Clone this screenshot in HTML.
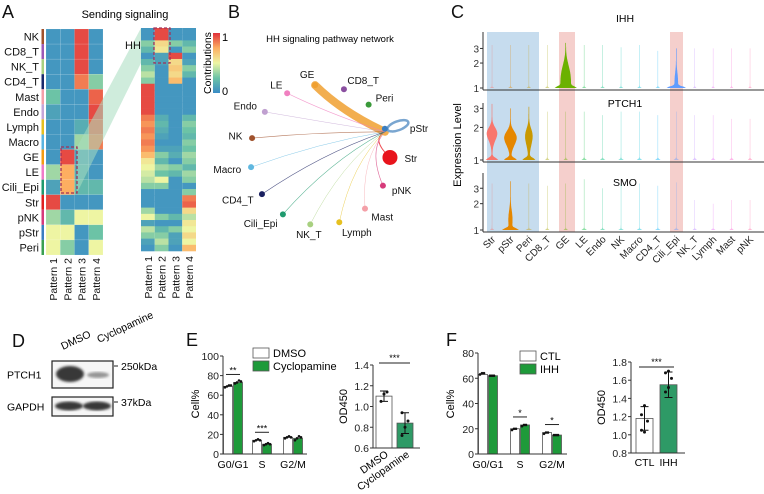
<!DOCTYPE html>
<html><head><meta charset="utf-8"><style>
html,body{margin:0;padding:0;background:#fff;}
svg{display:block;font-family:"Liberation Sans",Arial,sans-serif;}
</style></head><body>
<svg id="fig" width="764" height="494" viewBox="0 0 764 494" xmlns="http://www.w3.org/2000/svg">
<defs>
<linearGradient id="cbar" x1="0" y1="1" x2="0" y2="0">
<stop offset="0" stop-color="#3a8cc6"/><stop offset="0.25" stop-color="#6cc3a6"/><stop offset="0.5" stop-color="#eef5a3"/><stop offset="0.75" stop-color="#fdae61"/><stop offset="1" stop-color="#e0313b"/>
</linearGradient>
<filter id="blur1"><feGaussianBlur stdDeviation="1.2"/></filter>
</defs>
<g font-size="18" fill="#111">
<text x="2" y="18">A</text>
<text x="228" y="18">B</text>
<text x="451" y="18">C</text>
<text x="12" y="347">D</text>
<text x="186" y="346">E</text>
<text x="446" y="346">F</text>
</g>
<text x="125" y="18" font-size="11" text-anchor="middle">Sending signaling</text>
<text x="330" y="42" font-size="9.5" text-anchor="middle">HH signaling pathway network</text>
<g id="gA"></g>
<g id="gB"></g>
<g id="gC"></g>
<g id="gD"></g>
<g id="gE"></g>
<g id="gF"></g>
</svg>
<script>
// ---------- data ----------
const cellTypesA = ["NK","CD8_T","NK_T","CD4_T","Mast","Endo","Lymph","Macro","GE","LE","Cili_Epi","Str","pNK","pStr","Peri"];
const cellColorsA = ["#a0522d","#9b59b6","#a8d080","#1a2a6c","#f4a0a8","#c4a6d8","#e6c020","#5ab4e0","#f39c12","#f07cc8","#1f9a6e","#e02020","#d63a7a","#3b7ec0","#3aa050"];
const patternsA = ["Pattern 1","Pattern 2","Pattern 3","Pattern 4"];
const heatLeft = [
[.05,.05,.95,.05],[.05,.05,.95,.05],[.05,.05,.95,.05],[.05,.05,.85,.3],
[.25,.05,.05,.9],[.1,.05,.05,.95],[.05,.05,.15,.9],[.05,.05,.35,.85],
[.05,.95,.1,.05],[.35,.75,.15,.05],[.1,.75,.2,.2],[.95,.05,.05,.05],
[.35,.2,.5,.5],[.5,.5,.05,.25],[.5,.3,.05,.5]];
const heatRight = [
[.05,.95,.05,.05],[.05,.95,.05,.05],[.3,.6,.3,.2],[.2,.55,.05,.3],[.05,.1,.95,.05],
[.2,.1,.6,.1],[.3,.05,.65,.3],[.4,.05,.6,.2],[.3,.05,.7,.05],[.95,.05,.05,.05],
[.95,.05,.05,.05],[.95,.05,.05,.05],[.95,.05,.05,.05],[.95,.05,.05,.05],[.85,.15,.05,.2],
[.8,.2,.05,.3],[.85,.15,.05,.25],[.8,.1,.05,.2],[.85,.05,.05,.3],[.8,.1,.1,.25],
[.7,.3,.15,.35],[.55,.2,.05,.3],[.5,.35,.3,.2],[.45,.25,.2,.35],[.4,.5,.05,.3],
[.3,.3,.05,.05],[.05,.05,.05,.3],[.05,.05,.05,.85],[.05,.05,.05,.9],[.35,.05,.05,.6],
[.5,.3,.2,.4],[.1,.05,.05,.55],[.4,.2,.3,.5],[.3,.3,.1,.6],[.1,.4,.1,.5],[.05,.3,.05,.7]];

const netNodes = ["GE","CD8_T","Peri","pStr","Str","pNK","Mast","Lymph","NK_T","Cili_Epi","CD4_T","Macro","NK","Endo","LE"];
const netColors = ["#f0a030","#8a4fa0","#3a9a3a","#3b7ec0","#e8141c","#d63a7a","#f4a0a8","#e6c020","#a8d080","#1f9a6e","#1a2060","#60b8e0","#a0522d","#c0a0d0","#f080c0"];
const netNodeSize = [3,3,3,3,7.5,3,3,3,3,3,3,3,3,3,3];
const netEdgeWeight = [8,0,0,3,1,0.6,0.5,0.5,0.5,0.6,0.6,0.5,0.6,0.5,0.6];

const violinCats = ["Str","pStr","Peri","CD8_T","GE","LE","Endo","NK","Macro","CD4_T","Cili_Epi","NK_T","Lymph","Mast","pNK"];
const violinColors = ["#f8766d","#e58700","#c99800","#a3a500","#6bb100","#00ba38","#00bf7d","#00c0af","#00bcd8","#00b0f6","#619cff","#b983ff","#e76bf3","#fd61d1","#ff67a4"];
const genes = ["IHH","PTCH1","SMO"];
const ihhMax   = [3.3,3.3,3.3,3.3,3.5,3.3,3.3,3.1,3.3,2.8,3.0,3.0,3.0,3.0,3.0];
const ihhBulge = [2,2,2,2,6,2,2,2,2,2,8,1.5,1.5,1.5,1.5];
const ihhBody  = [0,0,0,0,5,0,0,0,0,0,1.5,0,0,0,0];
const ihhBodyC = [2,2,2,2,1.15,2,2,2,2,2,1.15,2,2,2,2];
const ihhBodySd = [.4,.4,.4,.4,.9,.4,.4,.4,.4,.4,.5,.4,.4,.4,.4];
const ptchMax   = [3.3,3.0,3.1,2.8,2.8,2.8,2.6,2.8,2.8,2.6,2.8,2.6,2.6,2.4,2.4];
const ptchBulge = [6,6,6,2,2,2.5,2.5,2.5,2.5,2.5,2.5,2,2,2,2];
const ptchBody  = [5,6,3.5,0,0,0,0,0,0,0,0,0,0,0,0];
const ptchBodyC = [1.75,1.6,1.65,2,2,2,2,2,2,2,2,2,2,2,2];
const ptchBodySd = [.33,.33,.4,.4,.4,.4,.4,.4,.4,.4,.4,.4,.4,.4,.4];
const smoMax   = [3.4,3.6,3.4,3.2,3.4,3.8,3.0,3.3,3.4,3.2,3.5,2.2,2.0,2.2,2.2];
const smoBulge = [2,7,3,2,2,2.5,2.5,2.5,2.5,2.5,2.5,2,2,2,2];
const smoBody  = [0,1.8,0,0,0,0,0,0,0,0,0,0,0,0,0];
const smoBodyC = [2,1.3,2,2,2,2,2,2,2,2,2,2,2,2,2];
const smoBodySd = [.4,.5,.4,.4,.4,.4,.4,.4,.4,.4,.4,.4,.4,.4,.4];
const exprTicks = [1,2,3];

const phaseCats = ["G0/G1","S","G2/M"];
const eDmso = [69,14,17];
const eCyclo = [73,10,16];
const eDmsoReps = [[68,69,70,70],[13,14,15,14],[16,17,18,17]];
const eCycloReps = [[72,73,75,74],[9,10,11,10],[14,16,18,17]];
const eCellTicks = [0,20,40,60,80,100];
const eSig = ["**","***",""];
const eOdCats = ["DMSO","Cyclopamine"];
const eOdVals = [1.1,0.84];
const eOdSd = [0.05,0.1];
const eOdReps = [[1.05,1.12,1.14],[0.72,0.8,0.86,0.94]];
const eOdTicks = [0.6,0.8,1.0,1.2,1.4];

const fCtl = [63,20,17];
const fIhh = [62,23,15];
const fCtlReps = [[63,64,64],[19,20,20],[16,17,17]];
const fIhhReps = [[62,62,62],[22,23,23],[15,15,15]];
const fCellTicks = [0,20,40,60,80];
const fSig = ["","*","*"];
const fOdCats = ["CTL","IHH"];
const fOdVals = [1.18,1.55];
const fOdSd = [0.13,0.14];
const fOdReps = [[1.05,1.03,1.15,1.22,1.32],[1.47,1.52,1.62,1.68,1.70]];
const fOdTicks = [0.8,1.0,1.2,1.4,1.6,1.8];

// ---------- helpers ----------
const NS="http://www.w3.org/2000/svg";
function mk(tag, attrs, parent){const e=document.createElementNS(NS,tag);for(const k in attrs)e.setAttribute(k,attrs[k]);parent.appendChild(e);return e;}
function txt(s, attrs, parent){const e=mk("text",attrs,parent);e.textContent=s;return e;}
const stops=[[0,[58,140,198]],[0.25,[108,195,166]],[0.5,[238,245,163]],[0.75,[253,174,97]],[1,[224,49,59]]];
function cmap(v){for(let i=1;i<stops.length;i++){if(v<=stops[i][0]){const a=stops[i-1],b=stops[i];const t=(v-a[0])/(b[0]-a[0]);const c=a[1].map((x,j)=>Math.round(x+(b[1][j]-x)*t));return `rgb(${c})`;}}return "rgb(224,49,59)";}

// ---------- Panel A ----------
const gA=document.getElementById("gA");
(function(){
 const x0=46,y0=29,cw=14.25,rh=(255-29)/cellTypesA.length;
 heatLeft.forEach((row,i)=>{
  row.forEach((v,j)=>{
   const r=mk("rect",{x:x0+j*cw,y:y0+i*rh,width:cw,height:rh,fill:cmap(v),stroke:"#ffffff","stroke-opacity":0.25,"stroke-width":0.4},gA);
   
   
  });
  const s=mk("rect",{x:41.5,y:y0+i*rh,width:2.5,height:rh,fill:cellColorsA[i]},gA);
  
  
  const t=txt(cellTypesA[i],{x:39,y:y0+i*rh+rh/2+4,"font-size":11,"text-anchor":"end",fill:"#111"},gA);
  
  
 });
 patternsA.forEach((p,j)=>{
  const t=txt(p,{transform:`translate(${x0+j*cw+cw/2+4},258) rotate(-90)`,"font-size":10.5,"text-anchor":"end",fill:"#111"},gA);
  
  
 });
 const band=mk("polygon",{points:"77,147 141,28 141,63 77,193",fill:"#a8dcc0","fill-opacity":0.55},gA);
 
 
 const rx0=141,ry0=28,rcw=13.75,rrh=(251-28)/heatRight.length;
 heatRight.forEach((row,i)=>{
  row.forEach((v,j)=>{
   const r=mk("rect",{x:rx0+j*rcw,y:ry0+i*rrh,width:rcw,height:rrh+0.3,fill:cmap(v)},gA);
   
   
  });
 });
 patternsA.forEach((p,j)=>{
  const t=txt(p,{transform:`translate(${rx0+j*rcw+rcw/2+4},256) rotate(-90)`,"font-size":10.5,"text-anchor":"end",fill:"#111"},gA);
  
  
 });
 const b1=mk("rect",{x:61,y:147,width:16,height:46,fill:"none",stroke:"#a0305a","stroke-width":1.3,"stroke-dasharray":"3,2"},gA);
 
 
 const b2=mk("rect",{x:154,y:28,width:16,height:35,fill:"none",stroke:"#a0305a","stroke-width":1.3,"stroke-dasharray":"3,2"},gA);
 
 
 const hh=txt("HH",{x:125,y:49,"font-size":11,fill:"#111"},gA);
 
 
 const cb=mk("rect",{x:213,y:33,width:7,height:60,fill:"url(#cbar)"},gA);
 
 
 const c1=txt("1",{x:222,y:41,"font-size":11},gA);
 
 
 const c0=txt("0",{x:222,y:95,"font-size":11},gA);
 
 
 const ct=txt("Contributions",{transform:"translate(211,63) rotate(-90)","font-size":10.5,"text-anchor":"middle"},gA);
 
 
})();

// ---------- Panel B ----------
const gB=document.getElementById("gB");
(function(){
 const cx=320,cy=155,R=70,hubIdx=3;
 const pos=netNodes.map((n,i)=>{const a=(-94+24*i)*Math.PI/180;return [cx+R*Math.cos(a),cy+R*Math.sin(a),a];});
 const hub=[pos[hubIdx][0],pos[hubIdx][1]+3];
 netNodes.forEach((n,i)=>{
  if(i===hubIdx||netEdgeWeight[i]<=0)return;
  const p=pos[i];
  const mx=(hub[0]+p[0])/2,my=(hub[1]+p[1])/2;
  const qx=mx+(cx-mx)*0.25,qy=my+(cy-my)*0.25-8;
  const e=mk("path",{d:`M${hub[0]},${hub[1]} Q${qx},${qy} ${p[0]},${p[1]}`,fill:"none",stroke:netColors[i],"stroke-width":netEdgeWeight[i],"stroke-opacity":i===0?0.85:0.75,"stroke-linecap":"round"},gB);
  
  
 });
 const loop=mk("ellipse",{cx:hub[0]+13,cy:hub[1]-6,rx:11,ry:4.5,transform:`rotate(-20 ${hub[0]+13} ${hub[1]-6})`,fill:"none",stroke:"#7aa6d0","stroke-width":2.5},gB);
 
 
 netNodes.forEach((n,i)=>{
  const p=pos[i];
  const c=mk("circle",{cx:p[0],cy:p[1],r:netNodeSize[i],fill:netColors[i]},gB);
  
  
  const ca=Math.cos(p[2]),sa=Math.sin(p[2]);
  let lx=p[0]+ca*(netNodeSize[i]+7),ly=p[1]+sa*(netNodeSize[i]+7)+4;
  let anchor=ca>0.25?"start":(ca<-0.25?"end":"middle");
  if(i===hubIdx){lx=p[0]+25;ly=p[1]+3;anchor="start";}
  if(i===0){lx=p[0]-8;ly=p[1]-7;anchor="middle";}
  const t=txt(n,{x:lx,y:ly,"font-size":10,"text-anchor":anchor,fill:"#111"},gB);
  
  
 });
})();

// ---------- Panel C ----------
const gC=document.getElementById("gC");
(function(){
 const ax=483, xr=764, x0=492, dx=(750-492)/14;
 const panels=[{top:32,base:88,k:36,max:ihhMax,bul:ihhBulge,bod:ihhBody,bc:ihhBodyC,sd:ihhBodySd,ty:22},
               {top:103,base:160,k:47,max:ptchMax,bul:ptchBulge,bod:ptchBody,bc:ptchBodyC,sd:ptchBodySd,ty:107},
               {top:173,base:230,k:38,max:smoMax,bul:smoBulge,bod:smoBody,bc:smoBodyC,sd:smoBodySd,ty:186}];
 const xs=i=>x0+i*dx;
 [[487,539,"#c6dcee","blue-shade-stromal"],[559,575,"#f5cfcc","pink-shade-ge"],[670,683,"#f5cfcc","pink-shade-cili-epi"]].forEach(s=>{
  const r=mk("rect",{x:s[0],y:32,width:s[1]-s[0],height:200,fill:s[2]},gC);
  
  
 });
 panels.forEach((P,pi)=>{
  const ys=v=>P.base-P.k*Math.log(v);
  const t=txt(genes[pi],{x:625,y:P.ty,"font-size":10.5,"text-anchor":"middle"},gC);
  
  
  violinCats.forEach((c,i)=>{
   const mx=P.max[i],pts=[],N=60;
   const big=P.bul[i]>4;
   const sdB=big?0.06:0.025;
   for(let s=0;s<=N;s++){const v=1+(mx-1)*s/N;
     let w=(big?0.3:0.25)+P.bul[i]*Math.exp(-Math.pow((v-1)/sdB,2))+P.bod[i]*Math.exp(-Math.pow((v-P.bc[i])/P.sd[i],2));
     pts.push([v,w]);}
   let d="";pts.forEach((p,k)=>{d+=(k?"L":"M")+(xs(i)+p[1]).toFixed(1)+","+ys(p[0]).toFixed(1);});
   for(let k=pts.length-1;k>=0;k--){d+="L"+(xs(i)-pts[k][1]).toFixed(1)+","+ys(pts[k][0]).toFixed(1);}
   const vp=mk("path",{d:d+"Z",fill:violinColors[i],"fill-opacity":big?1:0.45,stroke:"none"},gC);
   
   
  });
  const yl=mk("line",{x1:ax,y1:P.top,x2:ax,y2:P.base+2,stroke:"#333","stroke-width":1},gC);
  
  
  const xl=mk("line",{x1:ax,y1:P.base+2,x2:xr,y2:P.base+2,stroke:"#333","stroke-width":1},gC);
  
  
  exprTicks.forEach(v=>{
   const tk=mk("line",{x1:ax-3,y1:ys(v),x2:ax,y2:ys(v),stroke:"#333"},gC);
   
   
   const tl=txt(String(v),{x:ax-4,y:ys(v)+4,"font-size":10,"text-anchor":"end",fill:"#333"},gC);
   
   
  });
 });
 violinCats.forEach((c,i)=>{
  const t=txt(c,{transform:`translate(${xs(i)+4},240) rotate(-45)`,"font-size":10,"text-anchor":"end",fill:"#222"},gC);
  
  
 });
 const yt=txt("Expression Level",{transform:"translate(461,145) rotate(-90)","font-size":11,"text-anchor":"middle"},gC);
 
 
})();

// ---------- Panel D ----------
const gD=document.getElementById("gD");
(function(){
 const l1=txt("DMSO",{transform:"translate(63,350) rotate(-25)","font-size":10.5},gD);
 
 
 const l2=txt("Cyclopamine",{transform:"translate(99,343) rotate(-25)","font-size":10.5},gD);
 
 
 const boxes=[[361,27,"PTCH1","250kDa","ptch1"],[397,19,"GAPDH","37kDa","gapdh"]];
 boxes.forEach(b=>{
  const r=mk("rect",{x:52,y:b[0],width:61,height:b[1],fill:"#f6f6f6",stroke:"#222","stroke-width":1.2},gD);
  
  
  const t=txt(b[2],{x:7,y:b[0]+b[1]/2+4,"font-size":10.5},gD);
  
  
  const m=txt(b[3],{x:121,y:b[0]+9,"font-size":10.5},gD);
  
  
  const mt=mk("line",{x1:114,y1:b[0]+5,x2:118,y2:b[0]+5,stroke:"#222"},gD);
  
  
 });
 const bands=[[70,374,14,8,"#222",0.9],[98,375,11,3,"#555",0.6],[69,406,14,4.5,"#222",0.9],[97,406,14,4.5,"#222",0.9]];
 bands.forEach(b=>{
  const e=mk("ellipse",{cx:b[0],cy:b[1],rx:b[2],ry:b[3],fill:b[4],"fill-opacity":b[5],filter:"url(#blur1)"},gD);
  
  
 });
})();

// ---------- bar chart helpers ----------
function groupedBars(g, o){
 const ys=v=>o.y0-(v-o.vmin)*o.k;
 o.ticks.forEach(v=>{
  const tk=mk("line",{x1:o.ax-3,y1:ys(v),x2:o.ax,y2:ys(v),stroke:"#333"},g);
  
  
  const tl=txt(o.fmt(v),{x:o.ax-4,y:ys(v)+4,"font-size":10.5,"text-anchor":"end",fill:"#222"},g);
  
  
 });
 o.cats.forEach((c,i)=>{
  [[o.a,o.aReps,"#fff","bar-control"],[o.b,o.bReps,"#1e9a3a","bar-treatment"]].forEach((s,k)=>{
   const x=o.gx[i]+k*o.bw;
   const r=mk("rect",{x:x+0.5,y:ys(s[0][i]),width:o.bw-1,height:o.y0-ys(s[0][i]),fill:s[2],stroke:"#555","stroke-width":0.8},g);
   
   
   s[1][i].forEach((v,m)=>{
    const d=mk("circle",{cx:x+o.bw/2-3+m*2,cy:ys(v),r:1.3,fill:"#111"},g);
    
    
   });
  });
  const l=txt(c,{x:o.gx[i]+o.bw,y:o.y0+14,"font-size":10.5,"text-anchor":"middle"},g);
  
  
  if(o.sig[i]){
   const top=Math.max(o.a[i],o.b[i]);
   const sl=mk("line",{x1:o.gx[i]+3,y1:ys(top)-8,x2:o.gx[i]+2*o.bw-3,y2:ys(top)-8,stroke:"#222"},g);
   
   
   const st=txt(o.sig[i],{x:o.gx[i]+o.bw,y:ys(top)-9,"font-size":9,"text-anchor":"middle"},g);
   
   
  }
 });
 const yl=mk("line",{x1:o.ax,y1:ys(o.ticks[o.ticks.length-1]),x2:o.ax,y2:o.y0,stroke:"#333"},g);
 
 
 const xl=mk("line",{x1:o.ax,y1:o.y0,x2:o.xend,y2:o.y0,stroke:"#333"},g);
 
 
 const yt=txt("Cell%",{transform:`translate(${o.ax-24},${o.y0-50}) rotate(-90)`,"font-size":11,"text-anchor":"middle"},g);
 
 
 [[o.legA,"#fff"],[o.legB,"#1e9a3a"]].forEach((L,k)=>{
  const r=mk("rect",{x:o.lx,y:o.ly+k*13,width:16,height:10,fill:L[1],stroke:"#555","stroke-width":0.8},g);
  
  
  const t=txt(L[0],{x:o.lx+20,y:o.ly+k*13+9,"font-size":11},g);
  
  
 });
}
function odBars(g, o){
 const ys=v=>o.y0-(v-o.vmin)*o.k;
 o.ticks.forEach(v=>{
  const tk=mk("line",{x1:o.ax-3,y1:ys(v),x2:o.ax,y2:ys(v),stroke:"#333"},g);
  
  
  const tl=txt(v.toFixed(1),{x:o.ax-4,y:ys(v)+4,"font-size":10.5,"text-anchor":"end",fill:"#222"},g);
  
  
 });
 o.cats.forEach((c,i)=>{
  const x=o.bx[i];
  const r=mk("rect",{x:x,y:ys(o.vals[i]),width:o.bw,height:o.y0-ys(o.vals[i]),fill:i?"#2e9a66":"#fff",stroke:"#555","stroke-width":0.8},g);
  
  
  const cx=x+o.bw/2;
  const eb=mk("path",{d:`M${cx},${ys(o.vals[i]-o.sd[i])}V${ys(o.vals[i]+o.sd[i])}M${cx-4},${ys(o.vals[i]-o.sd[i])}H${cx+4}M${cx-4},${ys(o.vals[i]+o.sd[i])}H${cx+4}`,stroke:"#111",fill:"none","stroke-width":1},g);
  
  
  o.reps[i].forEach((v,m)=>{
   const d=mk("circle",{cx:cx+((m%3)-1)*3,cy:ys(v),r:1.5,fill:"#111"},g);
   
   
  });
  const l=o.rot?txt(c,{transform:`translate(${cx+5},${o.y0+8}) rotate(-35)`,"font-size":10.5,"text-anchor":"end"},g)
               :txt(c,{x:cx,y:o.y0+13,"font-size":10.5,"text-anchor":"middle"},g);
  
  
 });
 const yl=mk("line",{x1:o.ax,y1:ys(o.ticks[o.ticks.length-1]),x2:o.ax,y2:o.y0,stroke:"#333"},g);
 
 
 const xl=mk("line",{x1:o.ax,y1:o.y0,x2:o.xend,y2:o.y0,stroke:"#333"},g);
 
 
 const sl=mk("line",{x1:o.bx[0]+3,y1:o.sigY,x2:o.bx[1]+o.bw-3,y2:o.sigY,stroke:"#222"},g);
 
 
 const st=txt("***",{x:(o.bx[0]+o.bx[1]+o.bw)/2,y:o.sigY-2,"font-size":9,"text-anchor":"middle"},g);
 
 
 const yt=txt("OD450",{transform:`translate(${o.ax-26},${(o.y0+ys(o.ticks[o.ticks.length-1]))/2}) rotate(-90)`,"font-size":11,"text-anchor":"middle"},g);
 
 
}
const gE=document.getElementById("gE"), gF=document.getElementById("gF");
groupedBars(gE,{cats:phaseCats,a:eDmso,b:eCyclo,aReps:eDmsoReps,bReps:eCycloReps,ticks:eCellTicks,sig:eSig,
 ax:223,y0:454,vmin:0,k:0.98,gx:[223,252,283],bw:10,xend:307,fmt:v=>String(v),legA:"DMSO",legB:"Cyclopamine",lx:253,ly:348});
odBars(gE,{cats:eOdCats,vals:eOdVals,sd:eOdSd,reps:eOdReps,ticks:eOdTicks,ax:373,y0:448,vmin:0.6,k:103.75,
 bx:[376,397],bw:16,xend:420,sigY:363,rot:true});
groupedBars(gF,{cats:phaseCats,a:fCtl,b:fIhh,aReps:fCtlReps,bReps:fIhhReps,ticks:fCellTicks,sig:fSig,
 ax:478,y0:454,vmin:0,k:1.2625,gx:[478,510,542],bw:10,xend:567,fmt:v=>String(v),legA:"CTL",legB:"IHH",lx:520,ly:351});
odBars(gF,{cats:fOdCats,vals:fOdVals,sd:fOdSd,reps:fOdReps,ticks:fOdTicks,ax:631,y0:453,vmin:0.8,k:91,
 bx:[636,660],bw:17,xend:685,sigY:367,rot:false});
</script>
</body></html>
